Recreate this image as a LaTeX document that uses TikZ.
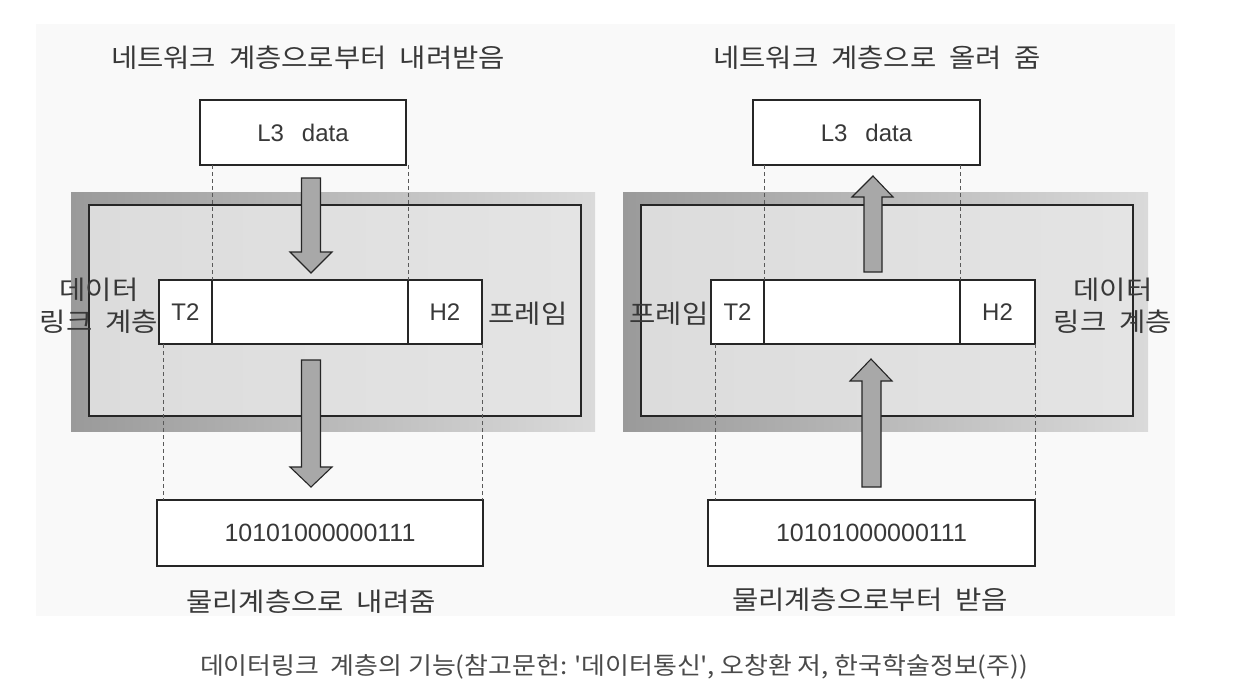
\documentclass[tikz,border=0pt]{standalone}
\usepackage{fontspec}
\setmainfont{Noto Sans CJK KR}
\newfontfamily\latin{Liberation Sans}
\newfontfamily\krwide[FakeStretch=1.1]{Noto Sans CJK KR}
\newfontfamily\krcap[FakeStretch=1.08]{Noto Sans CJK KR}
\definecolor{txt}{HTML}{383838}
\definecolor{capt}{HTML}{4A4A4A}
\definecolor{bgc}{HTML}{F9F9F9}
\definecolor{outdark}{HTML}{9A9A9A}
\definecolor{outlight}{HTML}{DADADA}
\definecolor{indark}{HTML}{DCDCDC}
\definecolor{inlight}{HTML}{E4E4E4}
\definecolor{arrowfill}{HTML}{A8A8A8}
\definecolor{edge}{HTML}{262626}
\tikzset{
  box/.style={draw=edge, line width=1.4pt, fill=white, rectangle, outer sep=0pt, inner sep=0pt, text=txt},
  cell/.style={box, minimum height=64pt, anchor=north west},
  dashline/.style={draw=black!65, line width=1pt, dash pattern=on 4pt off 3pt},
  blockarrow/.style={fill=arrowfill, draw=edge, line width=1.1pt, line join=miter},
  lbl/.style={text=txt, font=\krwide\fontsize{26}{32}\selectfont, inner sep=0pt},
  latinlbl/.style={text=txt, font=\latin\fontsize{24}{28}\selectfont, inner sep=0pt},
  inner panel/.style={draw=edge, line width=1.8pt, left color=indark, right color=inlight}
}
\begin{document}
\begin{tikzpicture}[x=1pt,y=-1pt]
\useasboundingbox (0,0) rectangle (1236,694);
\fill[white] (0,0) rectangle (1236,694);
\fill[bgc] (36,24) rectangle (1175,616);

% ---------- left panel ----------
\shade[left color=outdark, right color=outlight] (71,192) rectangle (595,431);
\path[inner panel] (89,205) rectangle (581,416);
% ---------- right panel ----------
\shade[left color=outdark, right color=outlight] (623,192) rectangle (1148,431);
\path[inner panel] (641,205) rectangle (1133,416);

% ---------- left boxes ----------
\node[box, minimum width=206pt, minimum height=65pt, font=\latin\fontsize{24}{28}\selectfont] (l3L) at (303,132.5) {L3\hspace{0.75em}data};
\node[cell, minimum width=53pt] (t2L) at (159,280) {};
\node[cell, minimum width=196pt] (midL) at (212,280) {};
\node[cell, minimum width=74pt] (h2L) at (408,280) {};
\node[box, minimum width=326pt, minimum height=66pt, font=\latin\fontsize{25}{28}\selectfont] (bitsL) at (320,533) {10101000000111};

% ---------- right boxes ----------
\node[box, minimum width=227pt, minimum height=65pt, font=\latin\fontsize{24}{28}\selectfont] (l3R) at (866.5,132.5) {L3\hspace{0.75em}data};
\node[cell, minimum width=53pt] (t2R) at (711,280) {};
\node[cell, minimum width=196pt] (midR) at (764,280) {};
\node[cell, minimum width=75pt] (h2R) at (960,280) {};
\node[box, minimum width=327pt, minimum height=66pt, font=\latin\fontsize{25}{28}\selectfont] (bitsR) at (871.5,533) {10101000000111};

% ---------- dashed guides ----------
\draw[dashline] (l3L.south -| t2L.north east) -- (t2L.north east);
\draw[dashline] (l3L.south -| h2L.north west) -- (h2L.north west);
\draw[dashline] ([xshift=4pt]t2L.south west) -- ([xshift=4pt]t2L.south west |- bitsL.north);
\draw[dashline] (h2L.south east) -- (h2L.south east |- bitsL.north);
\draw[dashline] (l3R.south -| t2R.north east) -- (t2R.north east);
\draw[dashline] (l3R.south -| h2R.north west) -- (h2R.north west);
\draw[dashline] ([xshift=4pt]t2R.south west) -- ([xshift=4pt]t2R.south west |- bitsR.north);
\draw[dashline] (h2R.south east) -- (h2R.south east |- bitsR.north);

% ---------- block arrows ----------
% left: down
\draw[blockarrow] (301.5,178) -- (320.5,178) -- (320.5,252) -- (332,252) -- (311,273) -- (290,252) -- (301.5,252) -- cycle;
\draw[blockarrow] (301.5,360) -- (320.5,360) -- (320.5,467) -- (332,467) -- (311,487) -- (290,467) -- (301.5,467) -- cycle;
% right: up
\draw[blockarrow] (864,272) -- (882,272) -- (882,197) -- (893,197) -- (873,176) -- (852,197) -- (864,197) -- cycle;
\draw[blockarrow] (862,487) -- (881,487) -- (881,381) -- (892,381) -- (871,359) -- (850,381) -- (862,381) -- cycle;

% ---------- cell labels ----------
\node[latinlbl] (t2Ltxt) at (t2L.center) {T2};
\node[latinlbl] (h2Ltxt) at (h2L.center) {H2};
\node[latinlbl] (t2Rtxt) at (t2R.center) {T2};
\node[latinlbl] (h2Rtxt) at (h2R.center) {H2};

% ---------- Korean labels ----------
\node[lbl] (titleL) at (308,58) {네트워크\ \ 계층으로부터\ \ 내려받음};
\node[lbl] (titleR) at (877,58) {네트워크\ \ 계층으로\ \ 올려\ \ 줌};
\node[lbl, align=center] (dllL) at (99,306) {데이터\\링크\ \ 계층};
\node[lbl, align=center] (dllR) at (1113,306) {데이터\\링크\ \ 계층};
\node[lbl] (frameL) at (528,314) {프레임};
\node[lbl] (frameR) at (669,314) {프레임};
\node[lbl] (botL) at (311,602) {물리계층으로\ \ 내려줌};
\node[lbl] (botR) at (870,600) {물리계층으로부터\ \ 받음};

% ---------- caption ----------
\node[text=capt, font=\krcap\fontsize{24}{28}\selectfont, inner sep=0pt] (caption) at (614,667) {데이터링크\ \ 계층의 기능(참고문헌: \textquotesingle 데이터통신\textquotesingle, 오창환 저, 한국학술정보(주))};
\end{tikzpicture}
\end{document}
